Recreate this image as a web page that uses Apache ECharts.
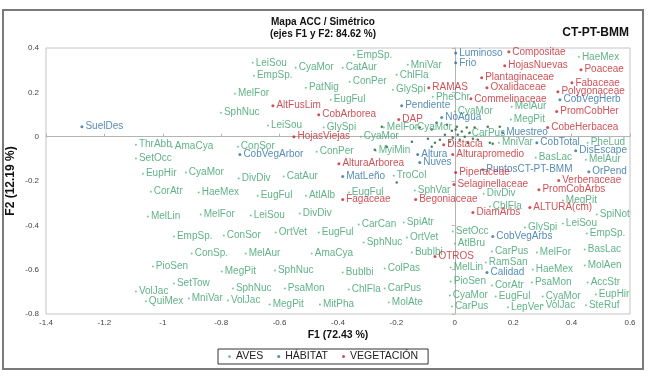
<!DOCTYPE html>
<html>
<head>
<meta charset="utf-8">
<script src="https://cdn.jsdelivr.net/npm/echarts@6/dist/echarts.min.js"></script>
<style>
  html, body { margin: 0; padding: 0; background: #fff; }
  #chart { width: 650px; height: 377px; }
</style>
</head>
<body>
<div id="chart"></div>
<script>
// axis ranges (F1 horizontal, F2 vertical)
const xRange = [-1.4, 0.6];
const yRange = [-0.8, 0.4];
const tickStep = 0.2;

const legendNames = ["AVES", "HÁBITAT", "VEGETACIÓN"];

// [F1, F2, label]
const aves = [
  [-0.346, 0.369, "EmpSp."], [-0.692, 0.333, "LeiSou"], [-0.545, 0.311, "CyaMor"],
  [-0.384, 0.311, "CatAur"], [-0.688, 0.275, "EmpSp."], [-0.161, 0.324, "MniVar"],
  [-0.199, 0.279, "ChlFla"], [-0.360, 0.248, "ConPer"], [-0.212, 0.212, "GlySpi"],
  [-0.510, 0.221, "PatNig"], [-0.753, 0.194, "MelFor"], [-0.425, 0.167, "EugFul"],
  [-0.075, 0.180, "PheChr"], [-0.801, 0.108, "SphNuc"], [-0.640, 0.050, "LeiSou"],
  [-0.449, 0.041, "GlySpi"], [-0.243, 0.041, "MelFor"], [-0.140, 0.041, "CyaMor"],
  [-0.322, 0.000, "CyaMor"], [-0.743, -0.045, "ConSor"], [-0.473, -0.068, "ConPer"],
  [-0.271, -0.063, "MyiMin"], [-1.092, -0.036, "ThrAbb"], [-0.969, -0.045, "AmaCya"],
  [-1.092, -0.099, "SetOcc"], [-0.921, -0.162, "CyaMor"], [-1.068, -0.167, "EupHir"],
  [-1.041, -0.248, "CorAtr"], [-0.877, -0.252, "HaeMex"], [-0.740, -0.189, "DivDiv"],
  [-0.586, -0.180, "CatAur"], [-0.209, -0.176, "TroCol"], [-0.675, -0.266, "EugFul"],
  [-0.510, -0.266, "AtlAlb"], [-0.363, -0.252, "EugFul"], [-1.051, -0.360, "MelLin"],
  [-0.870, -0.351, "MelFor"], [-0.699, -0.356, "LeiSou"], [-0.531, -0.347, "DivDiv"],
  [-0.137, -0.243, "SphVar"], [-0.962, -0.450, "EmpSp."], [-0.791, -0.446, "ConSor"],
  [-0.901, -0.527, "ConSp."], [-0.716, -0.527, "MelAur"], [-1.034, -0.586, "PioSen"],
  [-0.798, -0.608, "MegPit"], [-0.616, -0.604, "SphNuc"], [-0.962, -0.662, "SetTow"],
  [-0.760, -0.685, "SphNuc"], [-0.582, -0.685, "PsaMon"], [-1.092, -0.698, "VolJac"],
  [-0.911, -0.730, "MniVar"], [-0.777, -0.739, "VolJac"], [-1.058, -0.743, "QuiMex"],
  [-0.634, -0.757, "MegPit"], [-0.462, -0.757, "MitPha"], [-0.363, -0.689, "ChlFla"],
  [-0.240, -0.685, "CarPus"], [-0.226, -0.748, "MolAte"], [-0.384, -0.613, "Bublbi"],
  [-0.240, -0.595, "ColPas"], [-0.490, -0.527, "AmaCya"], [-0.312, -0.477, "SphNuc"],
  [-0.329, -0.396, "CarCan"], [-0.175, -0.387, "SpiAtr"], [-0.613, -0.432, "OrtVet"],
  [-0.466, -0.432, "EugFul"], [-0.164, -0.455, "OrtVet"], [-0.147, -0.523, "Bublbi"],
  [-0.014, -0.590, "MelLin"], [-0.007, -0.428, "SetOcc"], [0.000, -0.482, "AtlBru"],
  [0.240, -0.410, "GlySpi"], [0.127, -0.518, "CarPus"], [0.281, -0.523, "MelFor"],
  [0.370, -0.392, "LeiSou"], [0.452, -0.437, "EmpSp."], [0.486, -0.351, "SpiNot"],
  [0.445, -0.509, "BasLac"], [0.106, -0.568, "RamSan"], [0.267, -0.599, "HaeMex"],
  [0.445, -0.581, "MolAen"], [-0.014, -0.653, "PioSen"], [0.127, -0.671, "CorAtr"],
  [0.264, -0.658, "PsaMon"], [0.455, -0.658, "AccStr"], [-0.017, -0.716, "CyaMor"],
  [0.140, -0.721, "EugFul"], [0.301, -0.721, "CyaMor"], [0.483, -0.712, "EupHir"],
  [-0.010, -0.766, "CarPus"], [0.182, -0.770, "LepVer"], [0.301, -0.761, "VolJac"],
  [0.449, -0.761, "SteRuf"], [0.000, 0.113, "CyaMor"], [0.195, 0.135, "MelAur"],
  [0.192, 0.077, "MegPit"], [0.048, 0.014, "CarPus"], [0.151, -0.027, "MniVar"],
  [0.455, -0.027, "PheLud"], [0.277, -0.095, "BasLac"], [0.449, -0.104, "MelAur"],
  [0.099, -0.257, "DivDiv"], [0.370, -0.288, "MegPit"], [0.120, -0.315, "ChlFla"],
  [0.425, 0.360, "HaeMex"]
];

// bird points whose labels are hidden in the dense centre
const avesUnlabelled = [
  [-0.274, -0.059], [-0.147, -0.023], [-0.092, -0.009], [-0.068, -0.027], [-0.079, -0.045],
  [0.003, 0.032], [0.010, 0.009], [0.024, 0.023], [0.034, 0.000], [0.041, 0.041],
  [0.051, 0.018], [0.017, -0.014], [-0.007, -0.005], [-0.017, -0.023], [0.062, -0.009],
  [0.045, -0.027], [0.113, 0.045], [0.154, 0.045], [0.130, -0.032], [-0.199, -0.207],
  [-0.062, 0.063], [-0.027, 0.054], [-0.079, 0.032], [-0.120, 0.041], [-0.233, -0.045],
  [-0.051, -0.014], [0.007, 0.045], [0.120, -0.027], [-0.250, 0.045], [-0.034, 0.009],
  [-0.010, 0.027], [0.068, 0.041], [0.079, -0.014]
];

const habitat = [
  [-1.277, 0.045, "SuelDes"], [0.003, 0.378, "Luminoso"], [0.003, 0.333, "Frio"],
  [-0.182, 0.140, "Pendiente"], [-0.045, 0.086, "NoAgua"], [0.164, 0.018, "Muestreo"],
  [-0.736, -0.081, "CobVegArbor"], [-0.127, -0.081, "Altura"], [-0.120, -0.117, "Nuves"],
  [-0.384, -0.180, "MatLeño"], [0.281, -0.027, "CobTotal"], [0.414, -0.063, "DisEscape"],
  [0.096, -0.149, "PuntosCT-PT-BMM"], [0.459, -0.158, "OrPend"], [0.360, 0.167, "CobVegHerb"],
  [0.130, -0.450, "CobVegArbs"], [0.110, -0.613, "Calidad"]
];

const vegetacion = [
  [-0.623, 0.140, "AltFusLim"], [-0.089, 0.221, "RAMAS"], [-0.466, 0.099, "CobArborea"],
  [-0.192, 0.077, "DAP"], [-0.551, 0.000, "HojasViejas"], [-0.397, -0.122, "AlturaArborea"],
  [-0.384, -0.284, "Fagaceae"], [-0.134, -0.284, "Begoniaceae"], [0.185, 0.383, "Compositae"],
  [0.171, 0.320, "HojasNuevas"], [0.432, 0.302, "Poaceae"], [0.092, 0.266, "Plantaginaceae"],
  [0.110, 0.221, "Oxalidaceae"], [0.401, 0.243, "Fabaceae"], [0.353, 0.203, "Polygonaceae"],
  [0.055, 0.171, "Commelinaceae"], [0.349, 0.113, "PromCobHer"], [0.318, 0.041, "CobeHerbacea"],
  [-0.038, -0.036, "Distacia"], [-0.007, -0.081, "Alturapromedio"], [0.003, -0.162, "Piperaceae"],
  [0.356, -0.198, "Verbenaceae"], [-0.003, -0.216, "Selaginellaceae"], [0.288, -0.239, "PromCobArbs"],
  [0.257, -0.320, "ALTURA(cm)"], [0.062, -0.342, "DiamArbs"], [-0.068, -0.541, "OTROS"]
];

const FONT = "'Liberation Sans', Arial, sans-serif";
const GREEN = "#3a9d6b";
const BLUE = "#2c6fa3";
const RED = "#c3262e";

function toItems(list) {
  return list.map((p) => ({ name: p[2], value: [p[0], p[1]] }));
}

const chart = echarts.init(document.getElementById("chart"), null, { renderer: "canvas" });

const labelBase = { show: true, position: "right", distance: 2, fontSize: 10, fontFamily: FONT, formatter: "{b}" };

// labelled birds get a faint tiny dot, the crowded unlabelled ones a darker one
const avesData = toItems(aves).concat(
  avesUnlabelled.map((p) => ({
    name: "",
    value: p,
    symbolSize: 2.5,
    itemStyle: { color: "#1f5e34" },
    label: { show: false },
  }))
);

const zeroAxisLine = { show: true, onZero: true, onZeroAxisIndex: 0, lineStyle: { color: "#b4b4b4", width: 1 } };

const option = {
  animation: false,
  backgroundColor: "#fff",
  grid: { left: 46, right: 20, top: 48, bottom: 63, show: true, borderColor: "#c4c4c4", borderWidth: 1 },
  legend: {
    data: legendNames,
    left: 218,
    top: 349,
    icon: "circle",
    itemWidth: 3,
    itemHeight: 3,
    itemGap: 14,
    padding: [2, 10],
    borderColor: "#333",
    borderWidth: 1,
    textStyle: { fontSize: 10.5, fontFamily: FONT, color: "#222" },
  },
  xAxis: [
    {
      type: "value",
      min: xRange[0],
      max: xRange[1],
      interval: tickStep,
      axisLine: { show: false },
      axisTick: { show: false },
      splitLine: { show: false },
      axisLabel: { fontSize: 8, fontFamily: FONT, color: "#444", margin: 5 },
    },
    {
      type: "value",
      position: "bottom",
      min: xRange[0],
      max: xRange[1],
      interval: tickStep,
      axisLine: zeroAxisLine,
      axisTick: { show: true, inside: true, length: 3, lineStyle: { color: "#b4b4b4" } },
      axisLabel: { show: false },
      splitLine: { show: false },
    },
  ],
  yAxis: [
    {
      type: "value",
      min: yRange[0],
      max: yRange[1],
      interval: tickStep,
      axisLine: { show: false },
      axisTick: { show: false },
      splitLine: { show: false },
      axisLabel: { fontSize: 8, fontFamily: FONT, color: "#444", margin: 7 },
    },
    {
      type: "value",
      position: "left",
      min: yRange[0],
      max: yRange[1],
      interval: tickStep,
      axisLine: zeroAxisLine,
      axisTick: { show: true, length: 3, lineStyle: { color: "#b4b4b4" } },
      axisLabel: { show: false },
      splitLine: { show: false },
    },
  ],
  series: [
    {
      name: "AVES",
      type: "scatter",
      symbol: "circle",
      symbolSize: 2,
      itemStyle: { color: "#5fb58a" },
      label: Object.assign({}, labelBase, { color: GREEN }),
      data: avesData,
      z: 3,
    },
    {
      name: "HÁBITAT",
      type: "scatter",
      symbolSize: 3,
      itemStyle: { color: BLUE },
      label: Object.assign({}, labelBase, { color: BLUE }),
      data: toItems(habitat),
      z: 4,
    },
    {
      name: "VEGETACIÓN",
      type: "scatter",
      symbolSize: 3,
      itemStyle: { color: RED },
      label: Object.assign({}, labelBase, { color: RED }),
      data: toItems(vegetacion),
      z: 5,
    },
  ],
  graphic: [
    {
      type: "rect",
      shape: { x: 3, y: 10, width: 640, height: 359 },
      style: { fill: "none", stroke: "#7a7a7a", lineWidth: 2 },
      silent: true,
    },
    {
      type: "text",
      x: 323,
      y: 16,
      style: {
        text: "Mapa ACC / Simétrico\n(ejes F1 y F2: 84.62 %)",
        font: "bold 10px " + FONT,
        fill: "#111",
        textAlign: "center",
        lineHeight: 12,
      },
    },
    {
      type: "text",
      x: 629,
      y: 27,
      style: { text: "CT-PT-BMM", font: "bold 12px " + FONT, fill: "#111", textAlign: "right" },
    },
    {
      type: "text",
      x: 338,
      y: 330,
      style: { text: "F1 (72.43 %)", font: "bold 10.5px " + FONT, fill: "#111", textAlign: "center" },
    },
    {
      type: "text",
      x: 11,
      y: 181,
      rotation: Math.PI / 2,
      style: {
        text: "F2 (12.19 %)",
        font: "bold 12px " + FONT,
        fill: "#111",
        textAlign: "center",
        textVerticalAlign: "middle",
      },
    },
  ],
};

chart.setOption(option);
</script>
</body>
</html>
